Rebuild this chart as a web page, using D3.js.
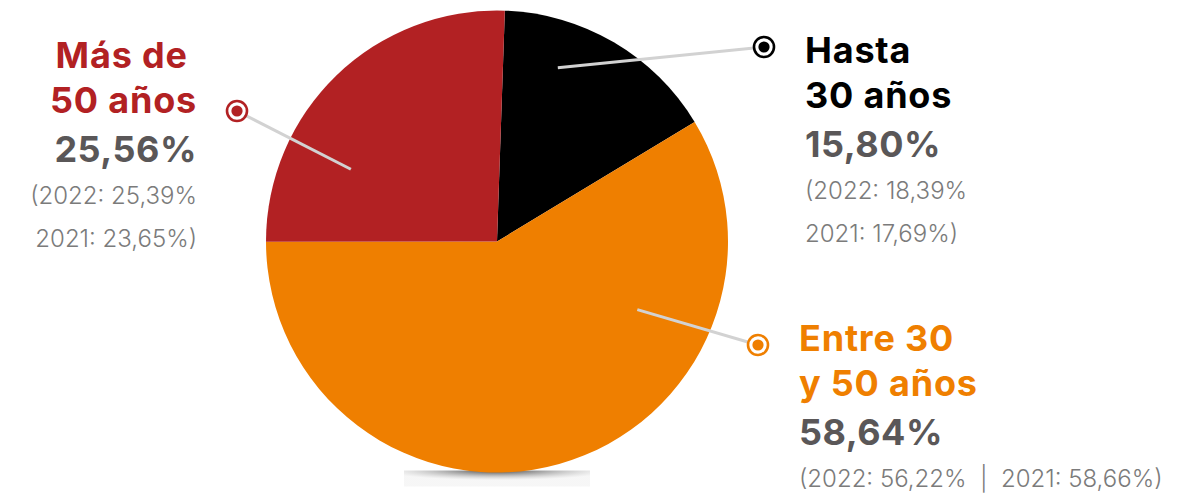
<!DOCTYPE html>
<html>
<head>
<meta charset="utf-8">
<script src="https://cdn.jsdelivr.net/npm/d3@7"></script>
<style>
  html, body { margin: 0; padding: 0; background: #fff; }
  svg { display: block; font-family: Inter, "DejaVu Sans", sans-serif; }
</style>
</head>
<body>
<div id="chart"></div>
<script>
// age groups, in drawing order (clockwise from 12 o'clock)
const groups = ["Hasta 30 años", "Entre 30 y 50 años", "Más de 50 años"]
const values = [15.80, 58.64, 25.56]
const colors = ["#000000", "#ef7f00", "#b22123"]
const titleLines = [["Hasta", "30 años"], ["Entre 30", "y 50 años"], ["Más de\u00a0", "50 años"]]
const valueLabels = ["15,80%", "58,64%", "25,56%"]
const history = [
  ["(2022: 18,39%", "2021: 17,69%)"],
  ["(2022: 56,22%  |  2021: 58,66%)"],
  ["(2022: 25,39%", "2021: 23,65%)"]
]

const width = 1202, height = 495
const center = [497, 241.5]
const radius = 231
const startOffset = 0.034 // pie starts a bit right of 12 o'clock

// TODO: label layout is hand tuned for this picture
const labelLayout = [
  {angle: 19.3, r: 184, marker: [764, 47], anchor: "start", x: 805, y: 63},
  {angle: 115.9, r: 156, marker: [758, 345], anchor: "start", x: 799, y: 351},
  {angle: 296.3, r: 163, marker: [237, 111], anchor: "end", x: 197, y: 68}
]

const svg = d3.select("#chart").append("svg")
  .attr("width", width)
  .attr("height", height)

// soft shadow under the pie
const defs = svg.append("defs")
const grad = defs.append("radialGradient")
  .attr("id", "shadow")
  .attr("cx", 0.5).attr("cy", 0).attr("r", 0.6)
grad.append("stop").attr("offset", "0%").attr("stop-color", "#3a3a3a").attr("stop-opacity", 0.95)
grad.append("stop").attr("offset", "45%").attr("stop-color", "#777").attr("stop-opacity", 0.6)
grad.append("stop").attr("offset", "100%").attr("stop-color", "#ddd").attr("stop-opacity", 0.25)

svg.append("rect")
  .attr("x", center[0] - 93)
  .attr("y", center[1] + radius - 2)
  .attr("width", 186)
  .attr("height", 16)
  .attr("fill", "url(#shadow)")

const pie = d3.pie()
  .sort(null)
  .startAngle(startOffset)
  .endAngle(startOffset + 2 * Math.PI)

const arc = d3.arc().innerRadius(0).outerRadius(radius)

const slices = svg.append("g")
  .attr("transform", `translate(${center})`)

slices.selectAll("path")
  .data(pie(values))
  .join("path")
    .attr("d", arc)
    .attr("fill", (d, i) => colors[i])

// leader lines + markers
const leaders = svg.append("g")

leaders.selectAll("line")
  .data(labelLayout)
  .join("line")
    .attr("x1", d => center[0] + d3.pointRadial(d.angle * Math.PI / 180, d.r)[0])
    .attr("y1", d => center[1] + d3.pointRadial(d.angle * Math.PI / 180, d.r)[1])
    .attr("x2", d => d.marker[0])
    .attr("y2", d => d.marker[1])
    .attr("stroke", "#d2d2d2")
    .attr("stroke-width", 3)

leaders.selectAll(".ring")
  .data(labelLayout)
  .join("circle")
    .attr("class", "ring")
    .attr("cx", d => d.marker[0])
    .attr("cy", d => d.marker[1])
    .attr("r", 10)
    .attr("fill", "#fff")
    .attr("stroke", (d, i) => colors[i])
    .attr("stroke-width", 2.6)

leaders.selectAll(".dot")
  .data(labelLayout)
  .join("circle")
    .attr("class", "dot")
    .attr("cx", d => d.marker[0])
    .attr("cy", d => d.marker[1])
    .attr("r", 5.6)
    .attr("fill", (d, i) => colors[i])

// text blocks
const labels = svg.append("g")

labelLayout.forEach((d, i) => {
  const g = labels.append("g")
    .attr("text-anchor", d.anchor)

  titleLines[i].forEach((line, j) => {
    g.append("text")
      .attr("x", d.x)
      .attr("y", d.y + j * 45)
      .attr("font-size", 36)
      .attr("font-weight", 700)
      .attr("letter-spacing", 0.8)
      .attr("fill", colors[i])
      .text(line)
  })

  g.append("text")
    .attr("x", d.x)
    .attr("y", d.y + 94)
    .attr("font-size", 36)
    .attr("font-weight", 700)
    .attr("letter-spacing", 0.5)
    .attr("fill", "#5a5758")
    .text(valueLabels[i])

  history[i].forEach((line, j) => {
    g.append("text")
      .attr("x", d.x)
      .attr("y", d.y + 136 + j * 43)
      .attr("font-size", 24)
      .attr("font-weight", 300)
      .attr("fill", "#7b7b7b")
      .attr("xml:space", "preserve")
      .style("white-space", "pre")
      .text(line)
  })
})
</script>
</body>
</html>
